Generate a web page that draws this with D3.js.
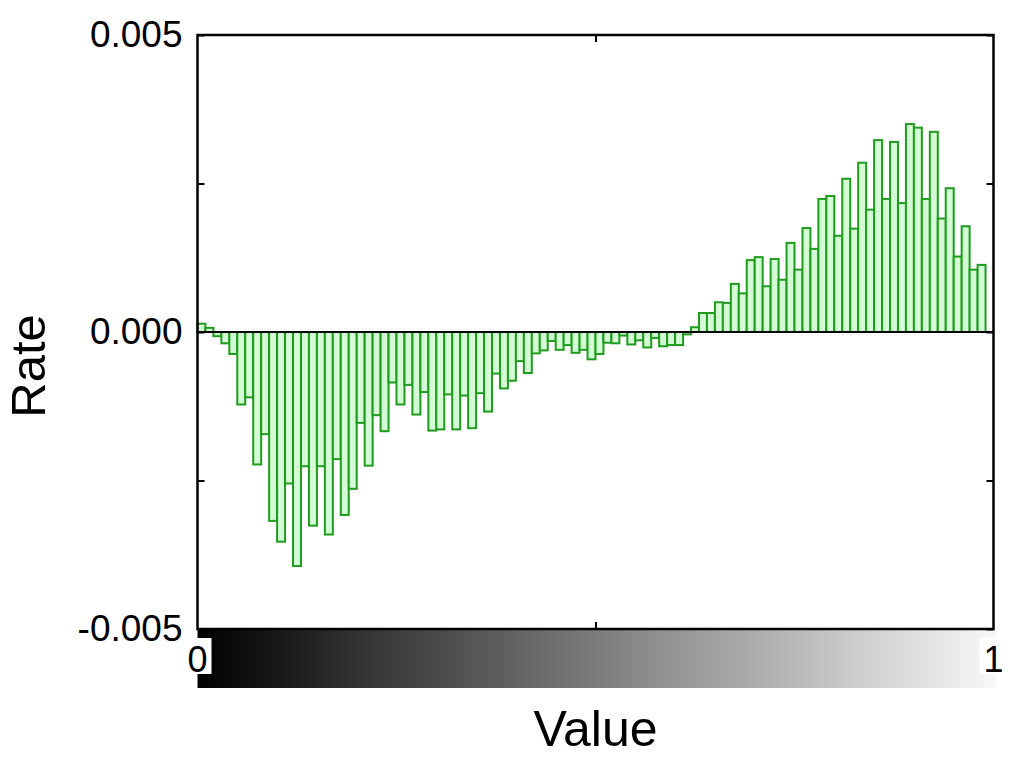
<!DOCTYPE html>
<html>
<head>
<meta charset="utf-8">
<script src="https://cdn.jsdelivr.net/npm/d3@7"></script>
<style>
  html, body { margin: 0; padding: 0; background: #fff; }
  svg { display: block; }
  text { font-family: "Liberation Sans", Arial, Helvetica, sans-serif; fill: #000; }
</style>
</head>
<body>
<svg id="chart" width="1014" height="768"></svg>
<script>
// ---- data ----
const binWidth = 0.01;
const rateValues = [
  0.00014, 0.00007, -0.00007, -0.00019, -0.00037, -0.00122, -0.00110, -0.00223, -0.00172, -0.00318,
  -0.00353, -0.00255, -0.00394, -0.00226, -0.00326, -0.00226, -0.00341, -0.00214, -0.00308, -0.00264,
  -0.00153, -0.00225, -0.00140, -0.00167, -0.00085, -0.00122, -0.00089, -0.00139, -0.00101, -0.00166,
  -0.00164, -0.00105, -0.00164, -0.00107, -0.00162, -0.00103, -0.00134, -0.00070, -0.00095, -0.00082,
  -0.00049, -0.00069, -0.00036, -0.00031, -0.00015, -0.00030, -0.00022, -0.00035, -0.00030, -0.00046,
  -0.00037, -0.00018, -0.00019, -0.00006, -0.00021, -0.00014, -0.00026, -0.00010, -0.00024, -0.00022,
  -0.00022, -0.00004, 0.00008, 0.00032, 0.00032, 0.00050, 0.00049, 0.00081, 0.00065, 0.00121,
  0.00126, 0.00077, 0.00123, 0.00088, 0.00150, 0.00105, 0.00175, 0.00140, 0.00224, 0.00229,
  0.00162, 0.00258, 0.00174, 0.00285, 0.00206, 0.00323, 0.00224, 0.00320, 0.00217, 0.00350,
  0.00344, 0.00224, 0.00337, 0.00191, 0.00242, 0.00127, 0.00178, 0.00105, 0.00113
];
const yTicks = [-0.005, -0.0025, 0, 0.0025, 0.005];
const yLabelTicks = [-0.005, 0, 0.005];
const xTicks = [0.5];
const colorbarLabels = [0, 1];
const xTitle = "Value";
const yTitle = "Rate";

(function () {
  const svg = d3.select("#chart");
  const pLeft = 197.5, pRight = 993.5, pTop = 35, pBottom = 629;
  const x = d3.scaleLinear().domain([0, 1]).range([pLeft, pRight]);
  const y = d3.scaleLinear().domain([-0.005, 0.005]).range([pBottom, pTop]);

  // bars
  svg.append("g").selectAll("rect")
    .data(rateValues)
    .join("rect")
    .attr("x", (d, i) => x(i * binWidth))
    .attr("width", x(binWidth) - x(0))
    .attr("y", d => y(Math.max(0, d)))
    .attr("height", d => Math.abs(y(d) - y(0)))
    .attr("fill", "#d4fcd4")
    .attr("stroke", "#1f9c1f")
    .attr("stroke-width", 2);

  // zero line
  svg.append("line")
    .attr("x1", x(0)).attr("x2", x(1))
    .attr("y1", y(0)).attr("y2", y(0))
    .attr("stroke", "#000").attr("stroke-width", 2);

  // colorbar
  const defs = svg.append("defs");
  const grad = defs.append("linearGradient").attr("id", "cb").attr("x1", "0%").attr("x2", "100%");
  grad.append("stop").attr("offset", "0%").attr("stop-color", "#000");
  grad.append("stop").attr("offset", "100%").attr("stop-color", "#f8f8f8");
  svg.append("rect")
    .attr("x", x(0)).attr("y", pBottom + 1)
    .attr("width", x(1) - x(0) + 3).attr("height", 58)
    .attr("fill", "url(#cb)");

  // colorbar labels with white boxes
  const cbl = svg.append("g").selectAll("g").data(colorbarLabels).join("g")
    .attr("transform", d => `translate(${x(d)},0)`);
  cbl.append("rect")
    .attr("x", -14).attr("y", 638).attr("width", 28).attr("height", 36)
    .attr("fill", "#fff");
  cbl.append("text")
    .attr("y", 672)
    .attr("text-anchor", "middle")
    .attr("font-size", 36)
    .text(d => String(d));

  // axes
  const fmt = d => d3.format(".3f")(d).replace("\u2212", "-");
  const leftAxis = d3.axisLeft(y).tickValues(yTicks).tickSizeInner(-7).tickSizeOuter(0).tickPadding(15)
    .tickFormat(d => yLabelTicks.includes(d) ? fmt(d) : "");
  const gl = svg.append("g").attr("transform", `translate(${pLeft},0)`).call(leftAxis);
  const rightAxis = d3.axisRight(y).tickValues(yTicks).tickSizeInner(-7).tickSizeOuter(0).tickFormat("");
  const gr = svg.append("g").attr("transform", `translate(${pRight},0)`).call(rightAxis);
  const topAxis = d3.axisTop(x).tickValues(xTicks).tickSizeInner(-7).tickSizeOuter(0).tickFormat("");
  const gt = svg.append("g").attr("transform", `translate(0,${pTop})`).call(topAxis);
  const botAxis = d3.axisBottom(x).tickValues(xTicks).tickSizeInner(-7).tickSizeOuter(0).tickFormat("");
  const gb = svg.append("g").attr("transform", `translate(0,${pBottom})`).call(botAxis);
  [gl, gr, gt, gb].forEach(g => {
    g.select(".domain").remove();
    g.selectAll(".tick line").attr("stroke", "#000").attr("stroke-width", 2);
    g.selectAll("text").attr("font-size", 37)
      .attr("font-family", "Liberation Sans, Arial, sans-serif").attr("fill", "#000");
  });

  // frame
  svg.append("rect")
    .attr("x", pLeft).attr("y", pTop)
    .attr("width", pRight - pLeft).attr("height", pBottom - pTop)
    .attr("fill", "none").attr("stroke", "#000").attr("stroke-width", 2.5);

  // titles
  svg.append("text")
    .attr("x", (pLeft + pRight) / 2).attr("y", 746)
    .attr("text-anchor", "middle").attr("font-size", 50)
    .text(xTitle);
  svg.append("text")
    .attr("transform", "translate(45,366) rotate(-90)")
    .attr("text-anchor", "middle").attr("font-size", 49)
    .text(yTitle);
})();
</script>
</body>
</html>
